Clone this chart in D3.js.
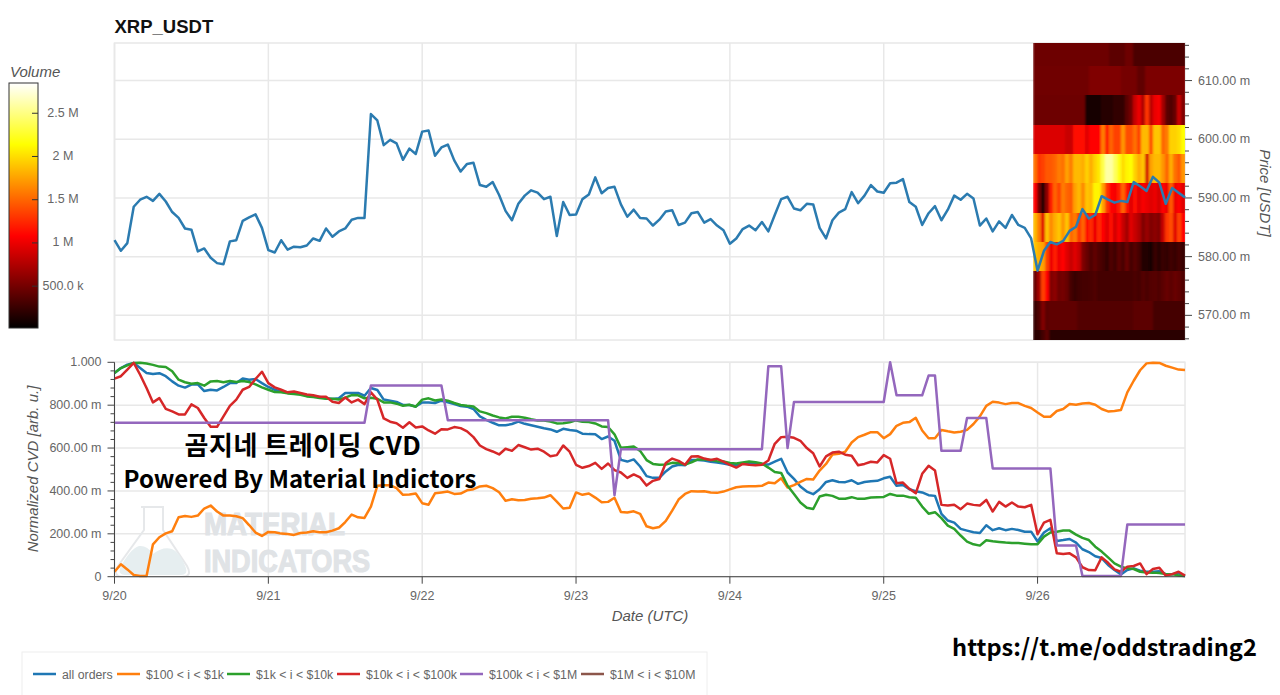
<!DOCTYPE html>
<html>
<head>
<meta charset="utf-8">
<title>XRP_USDT</title>
<script src="https://d3js.org/d3.v7.min.js"></script>
<style>
  html, body { margin: 0; padding: 0; background: #fff; overflow: hidden; }
  text { font-family: "Liberation Sans", Arial, sans-serif; }
  .axis text { fill: #666; font-size: 12.5px; font-family: "Liberation Sans", Arial, sans-serif; }
  .axis line, .axis path { stroke: #444; stroke-width: 1; }
  .grid line { stroke: #e8e8e8; stroke-width: 1.5; }
  .line { fill: none; stroke-width: 2.5; stroke-linejoin: round; }
</style>
</head>
<body>
<svg id="chart" width="1280" height="695"></svg>
<script>
// all values, one value per hour from 9/20 00:00 (prices and CVD in milli units)
var price = [
582.8,581.0,582.3,588.5,589.7,590.2,589.5,590.7,589.4,587.6,586.6,584.8,584.6,580.9,581.4,579.8,578.9,578.7,582.6,582.8,586.1,586.7,587.2,584.9,
581.1,580.7,582.8,581.2,581.7,581.6,581.9,583.1,582.7,584.8,583.4,584.3,584.8,586.3,586.6,586.6,604.3,603.2,599.0,599.9,599.3,596.5,598.4,597.5,
601.3,601.5,597.2,598.6,599.1,596.4,594.5,595.8,596.0,592.2,591.9,592.7,590.5,587.8,586.2,589.0,590.4,591.3,590.9,589.8,590.2,583.5,589.3,587.1,
587.2,589.8,590.6,593.5,590.8,591.7,591.9,588.9,586.8,588.0,586.6,586.5,585.3,586.3,587.7,587.9,585.4,585.8,587.4,587.6,585.8,586.4,585.3,584.5,
582.2,583.1,584.7,585.3,584.5,585.9,584.3,587.1,589.8,590.2,588.2,587.9,589.0,588.9,584.9,583.1,586.2,587.5,588.1,591.0,589.1,590.4,592.2,591.1,
590.9,592.5,592.6,593.2,589.3,588.5,585.4,587.4,588.6,586.2,588.0,590.4,589.7,590.7,589.9,585.3,586.5,584.3,586.0,584.9,587.1,585.4,584.9,583.1,
577.6,581.0,582.5,582.1,582.7,584.4,585.1,588.1,586.5,587.1,590.3,589.7,589.2,589.5,589.3,592.7,592.0,591.2,593.6,592.6,589.0,591.7,590.9,590.1
];

var allOrders = [
950,973,989,997,973,950,945,949,935,911,891,882,896,897,866,872,869,885,903,903,924,919,922,903,
885,872,863,860,857,854,847,841,838,832,829,832,857,857,857,844,880,871,826,821,815,801,801,794,
813,813,810,821,813,805,796,793,782,748,732,718,706,706,712,723,713,706,699,692,687,676,690,684,
681,667,665,664,642,654,634,545,537,547,514,469,461,461,491,514,522,520,544,544,542,536,533,528,
522,520,528,531,528,523,523,537,550,486,456,421,397,385,408,442,450,442,441,450,433,442,445,447,
459,466,424,428,408,399,393,380,377,293,262,252,223,215,207,204,240,217,226,217,223,218,210,210,
164,206,226,167,171,176,159,128,115,95,87,55,31,11,31,39,28,23,23,25,12,11,16,3
];
var orders100 = [
23,58,34,8,3,3,151,184,202,212,277,283,279,285,318,332,304,285,285,282,273,241,206,190,
209,207,201,199,195,204,206,212,207,207,215,226,255,290,277,274,327,424,427,427,413,382,383,388,
343,336,389,393,397,386,388,403,408,421,424,413,394,354,361,357,358,364,366,369,380,350,318,322,
393,382,388,369,347,349,368,302,299,305,293,235,226,232,260,308,360,386,399,397,399,393,391,397,
407,417,421,422,422,424,439,436,459,416,427,442,456,453,495,526,570,573,583,626,651,662,674,674,
646,665,704,718,721,741,682,646,646,684,678,673,676,685,712,748,797,816,812,805,810,810,797,787,
766,746,746,773,782,805,802,808,810,802,782,771,773,777,860,914,963,995,998,997,984,975,966,964
];
var orders1k = [
950,973,986,997,998,994,988,980,978,958,919,907,900,903,891,911,913,907,913,908,913,908,897,883,
872,861,860,855,852,849,841,838,833,830,830,826,835,847,846,832,835,830,813,813,807,797,802,793,
826,832,822,826,821,810,801,797,794,771,763,752,743,738,746,746,741,734,729,729,724,715,716,720,
729,723,721,715,701,698,664,601,604,607,587,544,526,522,523,531,530,523,533,547,547,544,539,537,
530,528,533,537,534,528,509,488,484,424,386,346,322,316,374,382,377,364,364,371,363,364,369,371,
372,386,378,378,371,368,327,294,301,273,238,223,192,164,151,145,170,165,162,159,157,157,154,151,
151,187,206,210,215,215,196,181,171,140,117,90,62,47,39,36,23,20,19,17,12,12,6,3
];
var orders10k = [
924,935,966,997,942,880,813,833,783,771,757,757,804,787,740,699,699,748,797,826,872,885,922,956,
903,883,872,860,864,857,850,846,839,839,816,810,836,813,826,805,860,826,738,723,716,695,720,696,
701,682,667,688,687,698,693,678,651,612,595,584,570,597,587,614,604,593,597,583,562,567,612,583,
522,508,516,531,503,528,497,486,461,477,463,425,447,456,530,551,540,522,561,562,551,544,550,537,
522,509,526,522,520,522,542,620,651,653,648,634,600,576,514,561,579,583,569,564,520,526,536,533,
567,550,436,439,410,389,480,517,495,335,332,336,315,341,335,332,358,304,349,327,346,327,324,335,
198,252,265,109,106,109,90,44,31,30,90,65,34,23,47,50,62,12,36,42,5,12,23,5
];
var orders100k = [
718,718,718,718,718,718,718,718,718,718,718,718,718,718,718,718,718,718,718,718,718,718,718,718,
718,718,718,718,718,718,718,718,718,718,718,718,718,718,718,718,892,892,892,892,892,892,892,892,
892,892,892,892,730,730,730,730,730,730,730,730,730,730,730,730,730,730,730,730,730,730,730,730,
730,730,730,730,730,730,380,595,595,595,595,595,595,595,595,595,595,595,595,595,595,595,595,595,
595,595,595,595,595,595,981,981,981,600,815,815,815,815,815,815,815,815,815,815,815,815,815,815,
815,1000,846,846,846,846,846,938,938,587,587,587,587,740,740,740,740,505,505,505,505,505,505,505,
505,505,505,146,146,146,146,3,3,3,3,3,3,3,243,243,243,243,243,243,243,243,243,243
];

// volume heatmap: rows from the top price bin down, volume in millions
var heatHourStart = 143.3;
var heatHourStep = 0.6237;
var priceBins = [617.5,612.5,607.5,602.5,597.5,592.5,587.5,582.5,577.5,572.5,567.5,562.5];
var heatRows = [
[.47,.47,.47,.47,.47,.47,.47,.47,.47,.47,.47,.47,.47,.47,.47,.47,.47,.47,.47,.40,.40,.40,.40,.47,.47,.33,.33,.33,.33,.33,.33,.33,.33,.33,.33,.33,.33,.33],
[.48,.48,.48,.48,.48,.48,.48,.48,.48,.48,.48,.48,.48,.48,.55,.55,.55,.55,.55,.55,.55,.55,.50,.50,.50,.50,.42,.42,.53,.53,.53,.53,.53,.53,.53,.53,.53,.53],
[.47,.47,.47,.47,.47,.47,.47,.47,.47,.47,.47,.47,.47,.12,.12,.12,.12,.18,.18,.18,.22,.22,.22,.40,.50,.85,1.0,.75,1.3,.80,1.0,1.05,.70,.40,.35,.45,.85,.55],
[.93,.93,.93,.93,.93,.93,.93,.93,.85,.85,1.15,1.15,1.15,.95,1.1,1.1,1.1,1.6,1.2,1.5,1.35,1.35,1.7,1.4,1.4,1.55,1.35,1.85,1.85,1.4,1.9,1.9,1.5,1.6,1.95,1.95,2.0,2.15],
[1.55,1.3,1.35,1.45,1.45,1.5,1.6,1.55,1.75,1.6,1.85,1.85,1.8,1.95,1.8,1.95,2.05,2.35,2.6,2.6,2.4,2.2,2.0,2.1,2.15,1.95,1.8,1.9,.90,1.75,1.85,1.85,1.7,1.5,1.8,1.55,1.45,1.7],
[1.1,.50,.15,.60,1.2,1.5,1.35,1.6,1.5,1.45,1.75,1.85,1.65,1.9,1.85,2.1,2.1,1.75,1.3,1.1,1.05,1.2,1.5,1.15,.95,1.15,.95,1.05,1.0,.95,1.0,.90,1.1,1.0,1.45,1.0,1.1,.95],
[1.85,1.6,.95,1.9,1.65,1.8,1.9,1.7,1.9,1.5,1.6,1.3,1.5,1.15,1.25,1.0,1.25,1.1,.95,1.15,.90,1.05,.85,.70,.95,.85,.75,.55,.65,.55,.60,.55,.85,1.3,1.4,.95,1.35,1.1],
[1.9,1.8,1.75,1.35,1.0,1.2,1.0,1.1,.95,.85,.95,.85,.55,.45,.35,.42,.35,.30,.22,.35,.28,.40,.32,.45,.30,.38,.30,.15,.15,.12,.25,.20,.25,.22,.28,.25,.30,.25],
[.45,.70,1.35,1.1,.55,.60,.48,.50,.45,.30,.25,.28,.30,.30,.32,.35,.30,.30,.30,.30,.30,.30,.30,.30,.30,.33,.30,.36,.33,.36,.38,.35,.40,.45,.40,.45,.42,.35],
[.25,.35,.55,.40,.42,.42,.42,.42,.42,.42,.42,.36,.36,.36,.36,.36,.36,.36,.36,.36,.36,.36,.36,.36,.36,.40,.40,.40,.40,.40,.30,.30,.30,.30,.30,.30,.30,.30],
[.20,.20,.30,.40,.20,.20,.20,.20,.20,.20,.20,.20,.20,.20,.20,.20,.20,.20,.20,.20,.20,.20,.20,.20,.20,.20,.20,.20,.20,.20,.20,.20,.20,.20,.20,.20,.20,.20]
];

var dayHours = [0,24,48,72,96,120,144];
var dayLabels = ["9/20","9/21","9/22","9/23","9/24","9/25","9/26"];
var priceTicks = [570,580,590,600,610];
var priceMinor = [566,568,572,574,576,578,582,584,586,588,592,594,596,598,602,604,606,608,612,614,616];
var cvdTicks = [0,200,400,600,800,1000];
var cvdLabels = ["0","200.00 m","400.00 m","600.00 m","800.00 m","1.000"];
var cvdMinor = [40,80,120,160,240,280,320,360,440,480,520,560,640,680,720,760,840,880,920,960];
var volumeTicks = [0.5,1,1.5,2,2.5];
var volumeLabels = ["500.0 k","1 M","1.5 M","2 M","2.5 M"];

var seriesNames = ["all orders","$100 < i < $1k","$1k < i < $10k","$10k < i < $100k","$100k < i < $1M","$1M < i < $10M"];
var seriesColors = ["#1f77b4","#ff7f0e","#2ca02c","#d62728","#9467bd","#8c564b"];
var seriesData = [allOrders,orders100,orders1k,orders10k,orders100k];
var legendSwatchX = [33,117,227,337,460,581];

var svg = d3.select("#chart");
var defs = svg.append("defs");

var x = d3.scaleLinear().domain([0,167]).range([114.5,1185]);
var yPrice = d3.scaleLinear().domain([565.8,616.4]).range([340,43]);
var yCvd = d3.scaleLinear().domain([0,1000]).range([576.7,362.3]);
var heatColor = d3.scaleLinear().domain([0.016,1.08,2.14,2.85]).range(["#000000","#ff0000","#ffff00","#ffffff"]);
var yVolume = d3.scaleLinear().domain([0.016,2.85]).range([328,83]);

defs.append("clipPath").attr("id","priceClip").append("rect")
  .attr("x",x(0)+(heatHourStart)*(x(1)-x(0))).attr("y",yPrice(616.4))
  .attr("width",x(167)-x(heatHourStart)).attr("height",yPrice(565.8)-yPrice(616.4));
// the stripes are soft in the picture
defs.append("filter").attr("id","soft").attr("x","-5%").attr("width","110%")
  .append("feGaussianBlur").attr("stdDeviation","0.9 0.5");
var grad = defs.append("linearGradient").attr("id","volumeGrad").attr("x1",0).attr("x2",0).attr("y1",1).attr("y2",0);
grad.selectAll("stop").data(heatColor.domain()).enter().append("stop")
  .attr("offset",d=>(d-0.016)/(2.85-0.016)).attr("stop-color",d=>heatColor(d));

// plot frames and grids
function drawFrame(yScale, hTicks) {
  var g = svg.append("g").attr("class","grid");
  g.selectAll(".h").data(hTicks).enter().append("line")
    .attr("x1",x(0)).attr("x2",x(167)).attr("y1",d=>yScale(d)).attr("y2",d=>yScale(d));
  g.selectAll(".v").data(dayHours).enter().append("line")
    .attr("x1",d=>x(d)).attr("x2",d=>x(d)).attr("y1",yScale.range()[0]).attr("y2",yScale.range()[1]);
  var r = yScale.range();
  g.append("rect").attr("x",x(0)).attr("y",r[1]).attr("width",x(167)-x(0)).attr("height",r[0]-r[1])
    .attr("fill","none").attr("stroke","#e8e8e8").attr("stroke-width",1.5);
}
drawFrame(yPrice, priceTicks);
drawFrame(yCvd, cvdTicks);

// watermark sits under the lines
var mark = svg.append("g");
mark.append("path")
  .attr("d","M141,507 L164,507 M144,507 L144,530 L118,566 Q112,577 124,577 L181,577 Q193,577 187,566 L163,530 L163,507")
  .attr("fill","none").attr("stroke","#e6e8ea").attr("stroke-width",2);
mark.append("path")
  .attr("d","M120,568 Q130,549 139,546 Q147,545 153,554 Q163,546 172,549 Q180,552 186,568 Q188,575 181,575 L125,575 Q118,575 120,568 Z")
  .attr("fill","#e6eef0");
mark.append("text").text("MATERIAL").attr("x",204).attr("y",535)
  .attr("textLength",141).attr("lengthAdjust","spacingAndGlyphs")
  .style("font-family","'Liberation Sans Narrow','Liberation Sans'").style("font-weight","bold").style("font-size","32px")
  .attr("fill","#e0e3e6").attr("stroke","#e0e3e6").attr("stroke-width",1.2);
mark.append("text").text("INDICATORS").attr("x",204).attr("y",572)
  .attr("textLength",166).attr("lengthAdjust","spacingAndGlyphs")
  .style("font-family","'Liberation Sans Narrow','Liberation Sans'").style("font-weight","bold").style("font-size","32px")
  .attr("fill","#e0e3e6").attr("stroke","#e0e3e6").attr("stroke-width",1.2);

// heatmap
var heat = svg.append("g").attr("clip-path","url(#priceClip)").append("g").attr("filter","url(#soft)");
heatRows.forEach(function(row, r) {
  heat.selectAll(".c"+r).data(row).enter().append("rect")
    .attr("x",(d,k)=>x(heatHourStart+k*heatHourStep))
    .attr("width",x(heatHourStep)-x(0)+0.6)
    .attr("y",yPrice(priceBins[r]))
    .attr("height",yPrice(priceBins[r+1])-yPrice(priceBins[r])+0.6)
    .attr("shape-rendering","crispEdges")
    .attr("fill",d=>heatColor(d));
});

// lines
var priceLine = d3.line().x((d,i)=>x(i)).y(d=>yPrice(d));
svg.append("path").datum(price).attr("class","line").attr("stroke","#2b7bb0").attr("d",priceLine);

var cvdLine = d3.line().x((d,i)=>x(i)).y(d=>yCvd(d));
seriesData.forEach(function(s, i) {
  svg.append("path").datum(s).attr("class","line").attr("stroke",seriesColors[i]).attr("d",cvdLine);
});

// axes
var rightMajor = d3.axisRight(yPrice).tickValues(priceTicks).tickSize(7).tickPadding(6).offset(0)
  .tickFormat(d=>d3.format(".2f")(d)+" m");
var rightMinor = d3.axisRight(yPrice).tickValues(priceMinor).tickSize(4).tickFormat("").offset(0);
svg.append("g").attr("class","axis").attr("transform","translate(1185,0)").call(rightMinor).select(".domain").remove();
svg.append("g").attr("class","axis").attr("transform","translate(1185,0)").call(rightMajor).select(".domain").remove();

var leftMajor = d3.axisLeft(yCvd).tickValues(cvdTicks).tickSize(7).tickPadding(6).offset(0)
  .tickFormat((d,i)=>cvdLabels[i]);
var leftMinor = d3.axisLeft(yCvd).tickValues(cvdMinor).tickSize(4).tickFormat("").offset(0);
svg.append("g").attr("class","axis").attr("transform","translate(114.5,0)").call(leftMinor).selectAll(".domain").remove();
svg.append("g").attr("class","axis").attr("transform","translate(114.5,0)").call(leftMajor)
  .select(".domain").attr("d","M0,"+yCvd(1000)+"V"+yCvd(0));

var bottom = d3.axisBottom(x).tickValues(dayHours).tickSize(7).tickPadding(7).offset(0)
  .tickFormat((d,i)=>dayLabels[i]);
svg.append("g").attr("class","axis").attr("transform","translate(0,576.7)").call(bottom)
  .select(".domain").attr("d","M"+x(0)+",0H"+x(167));

// titles
svg.append("text").text("XRP_USDT").attr("x",114.5).attr("y",33)
  .style("font-weight","bold").style("font-size","18.5px").attr("fill","#111");
svg.append("text").text("Date (UTC)").attr("x",650).attr("y",621).attr("text-anchor","middle")
  .style("font-style","italic").style("font-size","15px").attr("fill","#555");
svg.append("text").text("Normalized CVD [arb. u.]").attr("transform","translate(38,469) rotate(-90)")
  .attr("text-anchor","middle").style("font-style","italic").style("font-size","15px").attr("fill","#555");
svg.append("text").text("Price [USDT]").attr("transform","translate(1260,193) rotate(90)")
  .attr("text-anchor","middle").style("font-style","italic").style("font-size","15px").attr("fill","#555");

// volume colorbar
var bar = svg.append("g");
bar.append("rect").attr("x",9).attr("y",yVolume(2.85)).attr("width",29).attr("height",yVolume(0.016)-yVolume(2.85))
  .attr("fill","url(#volumeGrad)").attr("stroke","#333").attr("stroke-width",1);
bar.selectAll("line").data(volumeTicks).enter().append("line")
  .attr("x1",32).attr("x2",38).attr("y1",d=>yVolume(d)).attr("y2",d=>yVolume(d)).attr("stroke","#333");
bar.selectAll(".lab").data(volumeTicks).enter().append("text").attr("class","lab")
  .text((d,i)=>volumeLabels[i]).attr("x",63).attr("y",d=>yVolume(d)+3.5).attr("text-anchor","middle")
  .style("font-size","12.5px").attr("fill","#666");
bar.append("text").text("Volume").attr("x",10).attr("y",77)
  .style("font-style","italic").style("font-size","15px").attr("fill","#555");

// legend box, bottom edge runs off the picture
svg.append("rect").attr("x",22).attr("y",652).attr("width",685).attr("height",60)
  .attr("fill","#fff").attr("stroke","#eee").attr("stroke-width",1);
var leg = svg.selectAll(".leg").data(seriesNames).enter().append("g").attr("class","leg")
  .attr("transform",(d,i)=>"translate("+legendSwatchX[i]+",674)");
leg.append("line").attr("x1",0).attr("x2",23).attr("stroke",(d,i)=>seriesColors[i]).attr("stroke-width",2.5);
leg.append("text").text(d=>d).attr("x",29).attr("y",4.5).style("font-size","12.3px").attr("fill","#666");

// captions pasted on top of the chart
var cjk = "'Noto Sans CJK KR','Noto Sans'";
svg.append("text").text("곰지네 트레이딩 CVD").attr("x",303).attr("y",455).attr("text-anchor","middle")
  .style("font-family",cjk).style("font-weight","700").style("font-size","26px").style("letter-spacing","0.5px").attr("fill","#000");
svg.append("text").text("Powered By Material Indictors").attr("x",300).attr("y",488).attr("text-anchor","middle")
  .style("font-family",cjk).style("font-weight","700").style("font-size","24px").attr("fill","#000");
svg.append("text").text("https://t.me/oddstrading2").attr("x",1104.5).attr("y",656).attr("text-anchor","middle")
  .style("font-family",cjk).style("font-weight","700").style("font-size","23.6px").attr("fill","#000");
</script>
</body>
</html>
